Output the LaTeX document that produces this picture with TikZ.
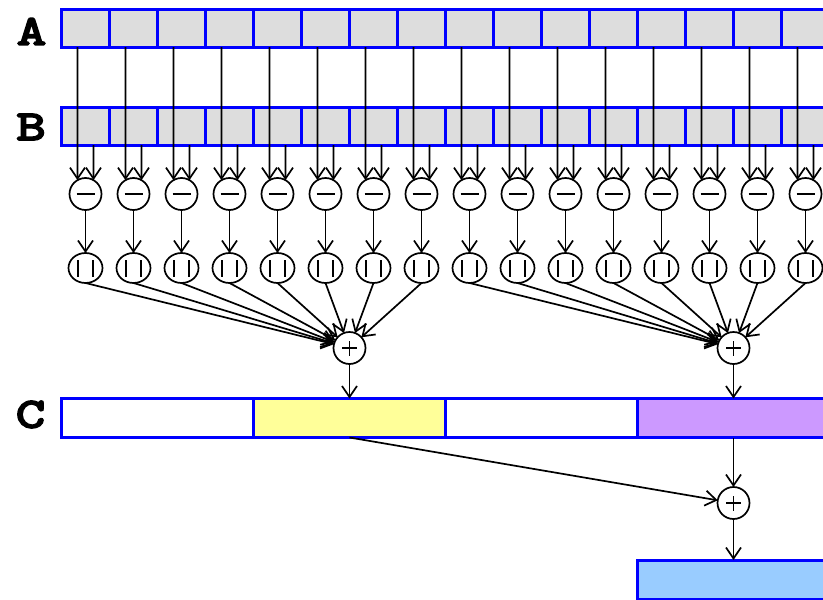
\documentclass[tikz,border=0pt]{standalone}
\usepackage{fontspec}
\newfontfamily\labfont[FakeBold=5,FakeStretch=1.35]{Latin Modern Mono}
\usetikzlibrary{arrows.meta,shapes.geometric}
\definecolor{cellgray}{RGB}{221,221,221}
\definecolor{cellblue}{RGB}{0,0,255}
\definecolor{cyellow}{RGB}{255,255,153}
\definecolor{cpurple}{RGB}{204,153,255}
\definecolor{clblue}{RGB}{153,204,255}
\begin{document}
\begin{tikzpicture}[x=1pt,y=-1pt,
  cell/.style={draw=cellblue, line width=3pt, fill=cellgray, minimum width=48pt, minimum height=38pt, inner sep=0pt, outer sep=0pt},
  ccell/.style={draw=cellblue, line width=3pt, fill=white, minimum width=192pt, minimum height=39pt, inner sep=0pt, outer sep=0pt},
  opnode/.style={draw, circle, line width=1.7pt, minimum size=32pt, inner sep=0pt, outer sep=0pt, fill=white},
  absnode/.style={draw, ellipse, line width=1.7pt, minimum width=34pt, minimum height=30pt, inner sep=0pt, outer sep=0pt, fill=white},
  arr/.style={-{Straight Barb[length=11pt,width=15pt,line width=1.7pt]}, line width=1.7pt},
  lab/.style={font=\labfont\fontsize{42}{42}\selectfont, inner sep=0pt}
]
\useasboundingbox (0,0) rectangle (823,600);
\clip (0,0) rectangle (823,600);
\fill[white] (0,0) rectangle (823,600);

% labels
\node[lab] (la) at (31.5,31.5) {A};
\node[lab] (lb) at (31,127) {B};
\node[lab] (lc) at (30.5,414.5) {C};

% rows A and B
\foreach \i in {1,...,16} {
  \node[cell] (a\i) at ({61.5+48*\i-24},28) {};
  \node[cell] (b\i) at ({61.5+48*\i-24},126) {};
}

% operator nodes
\foreach \i in {1,...,16} {
  \node[opnode] (m\i) at ({61.5+48*\i-24},194) {\rule[-0.8pt]{18pt}{1.6pt}};
  \node[absnode] (v\i) at ({61.5+48*\i-24},268) {\rule[-8.5pt]{1.6pt}{17pt}\hspace{13.5pt}\rule[-8.5pt]{1.6pt}{17pt}};
}

% C row
\node[ccell] (c1) at (157.5,418) {};
\node[ccell, fill=cyellow] (c2) at (349.5,418) {};
\node[ccell] (c3) at (541.5,418) {};
\node[ccell, fill=cpurple] (c4) at (733.5,418) {};

% plus nodes
\foreach \n/\x/\y in {p1/349.5/348, p2/733.5/348, p3/733.5/503} {
  \node[opnode] (\n) at (\x,\y) {\makebox[0pt]{\rule[-0.8pt]{15pt}{1.6pt}}\makebox[0pt]{\rule[-7.5pt]{1.6pt}{15pt}}};
}

% result box
\node[ccell, fill=clblue] (d) at (733.5,579.5) {};

% connectors
\foreach \i in {1,...,16} {
  \draw[arr] ([xshift=-8pt]a\i.south) -- (m\i.120);
  \draw[arr] ([xshift=8pt]b\i.south) -- (m\i.60);
  \draw[arr] (m\i) -- (v\i);
}
\foreach \i in {1,...,8} { \draw[arr] (v\i.south) -- (p1); }
\foreach \i in {9,...,16} { \draw[arr] (v\i.south) -- (p2); }
\draw[arr] (p1) -- (c2.north);
\draw[arr] (p2) -- (c4.north);
\draw[arr] (c4.south) -- (p3);
\draw[arr] (c2.south) -- (p3);
\draw[arr] (p3) -- (d.north);
\end{tikzpicture}
\end{document}
